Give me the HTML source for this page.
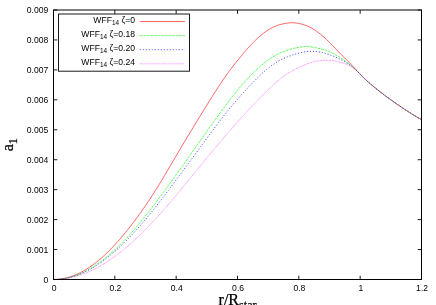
<!DOCTYPE html>
<html><head><meta charset="utf-8"><title>plot</title>
<style>
html,body{margin:0;padding:0;background:#fff;overflow:hidden}
body{width:436px;height:305px;position:relative;font-family:"Liberation Sans",sans-serif}
</style></head><body>
<svg width="436" height="305" viewBox="0 0 436 305" style="position:absolute;left:0;top:0;will-change:transform">
<rect width="436" height="305" fill="#fff"/>
<path d="M53.5,279.50 L55.0,279.48 L56.5,279.41 L58.0,279.31 L59.5,279.15 L61.0,278.96 L62.5,278.72 L64.0,278.44 L65.5,278.12 L67.0,277.75 L68.5,277.35 L70.0,276.89 L71.5,276.40 L73.0,275.86 L74.5,275.29 L76.0,274.67 L77.5,274.00 L79.0,273.30 L80.5,272.55 L82.0,271.77 L83.5,270.94 L85.0,270.07 L86.5,269.16 L88.0,268.22 L89.5,267.23 L91.0,266.20 L92.5,265.13 L94.0,264.02 L95.5,262.88 L97.0,261.69 L98.5,260.47 L100.0,259.21 L101.5,257.91 L103.0,256.58 L104.5,255.21 L106.0,253.80 L107.5,252.36 L109.0,250.88 L110.5,249.37 L112.0,247.82 L113.5,246.24 L115.0,244.62 L116.5,242.97 L118.0,241.29 L119.5,239.57 L121.0,237.83 L122.5,236.06 L124.0,234.26 L125.5,232.44 L127.0,230.60 L128.5,228.72 L130.0,226.82 L131.5,224.90 L133.0,222.95 L134.5,220.97 L136.0,218.96 L137.5,216.93 L139.0,214.87 L140.5,212.79 L142.0,210.67 L143.5,208.53 L145.0,206.36 L146.5,204.16 L148.0,201.93 L149.5,199.68 L151.0,197.39 L152.5,195.08 L154.0,192.74 L155.5,190.36 L157.0,187.96 L158.5,185.54 L160.0,183.09 L161.5,180.61 L163.0,178.12 L164.5,175.61 L166.0,173.09 L167.5,170.56 L169.0,168.01 L170.5,165.46 L172.0,162.91 L173.5,160.35 L175.0,157.80 L176.5,155.24 L178.0,152.69 L179.5,150.15 L181.0,147.62 L182.5,145.10 L184.0,142.59 L185.5,140.08 L187.0,137.59 L188.5,135.10 L190.0,132.61 L191.5,130.14 L193.0,127.67 L194.5,125.20 L196.0,122.74 L197.5,120.29 L199.0,117.84 L200.5,115.39 L202.0,112.95 L203.5,110.51 L205.0,108.08 L206.5,105.65 L208.0,103.23 L209.5,100.82 L211.0,98.42 L212.5,96.04 L214.0,93.67 L215.5,91.33 L217.0,89.00 L218.5,86.70 L220.0,84.43 L221.5,82.19 L223.0,79.97 L224.5,77.80 L226.0,75.65 L227.5,73.55 L229.0,71.49 L230.5,69.47 L232.0,67.49 L233.5,65.55 L235.0,63.64 L236.5,61.77 L238.0,59.92 L239.5,58.09 L241.0,56.28 L242.5,54.48 L244.0,52.70 L245.5,50.94 L247.0,49.21 L248.5,47.52 L250.0,45.86 L251.5,44.25 L253.0,42.68 L254.5,41.17 L256.0,39.70 L257.5,38.29 L259.0,36.94 L260.5,35.64 L262.0,34.40 L263.5,33.23 L265.0,32.11 L266.5,31.06 L268.0,30.08 L269.5,29.16 L271.0,28.31 L272.5,27.52 L274.0,26.80 L275.5,26.15 L277.0,25.57 L278.5,25.05 L280.0,24.60 L281.5,24.22 L283.0,23.89 L284.5,23.59 L286.0,23.32 L287.5,23.08 L289.0,22.89 L290.5,22.75 L292.0,22.70 L293.5,22.74 L295.0,22.85 L296.5,23.05 L298.0,23.30 L299.5,23.61 L301.0,23.96 L302.5,24.36 L304.0,24.81 L305.5,25.33 L307.0,25.90 L308.5,26.54 L310.0,27.24 L311.5,28.02 L313.0,28.88 L314.5,29.82 L316.0,30.82 L317.5,31.90 L319.0,33.04 L320.5,34.25 L322.0,35.50 L323.5,36.80 L325.0,38.14 L326.5,39.52 L328.0,40.94 L329.5,42.40 L331.0,43.90 L332.5,45.43 L334.0,46.98 L335.5,48.55 L337.0,50.12 L338.5,51.68 L340.0,53.22 L341.5,54.75 L343.0,56.26 L344.5,57.77 L346.0,59.28 L347.5,60.79 L349.0,62.30 L350.5,63.83 L352.0,65.38 L353.5,66.96 L355.0,68.56 L356.5,70.18 L358.0,71.82 L359.5,73.44 L361.0,75.04 L362.5,76.59 L364.0,78.09 L365.5,79.53 L367.0,80.91 L368.5,82.25 L370.0,83.55 L371.5,84.82 L373.0,86.08 L374.5,87.31 L376.0,88.53 L377.5,89.72 L379.0,90.91 L380.5,92.08 L382.0,93.23 L383.5,94.37 L385.0,95.50 L386.5,96.62 L388.0,97.73 L389.5,98.82 L391.0,99.91 L392.5,100.98 L394.0,102.05 L395.5,103.10 L397.0,104.14 L398.5,105.18 L400.0,106.20 L401.5,107.22 L403.0,108.22 L404.5,109.22 L406.0,110.20 L407.5,111.18 L409.0,112.14 L410.5,113.10 L412.0,114.04 L413.5,114.97 L415.0,115.88 L416.5,116.79 L418.0,117.68 L419.5,118.55 L421.0,119.42 L421.5,119.70" fill="none" stroke="#ff0000" stroke-width="0.6"/>
<path d="M53.5,279.50 L55.0,279.48 L56.5,279.43 L58.0,279.33 L59.5,279.20 L61.0,279.04 L62.5,278.84 L64.0,278.60 L65.5,278.32 L67.0,278.01 L68.5,277.66 L70.0,277.27 L71.5,276.85 L73.0,276.39 L74.5,275.89 L76.0,275.36 L77.5,274.80 L79.0,274.19 L80.5,273.56 L82.0,272.88 L83.5,272.17 L85.0,271.43 L86.5,270.65 L88.0,269.84 L89.5,268.99 L91.0,268.11 L92.5,267.20 L94.0,266.25 L95.5,265.27 L97.0,264.25 L98.5,263.21 L100.0,262.13 L101.5,261.01 L103.0,259.87 L104.5,258.69 L106.0,257.49 L107.5,256.25 L109.0,254.98 L110.5,253.69 L112.0,252.36 L113.5,251.00 L115.0,249.62 L116.5,248.20 L118.0,246.76 L119.5,245.29 L121.0,243.79 L122.5,242.27 L124.0,240.72 L125.5,239.15 L127.0,237.55 L128.5,235.92 L130.0,234.27 L131.5,232.59 L133.0,230.89 L134.5,229.17 L136.0,227.42 L137.5,225.65 L139.0,223.86 L140.5,222.05 L142.0,220.22 L143.5,218.36 L145.0,216.50 L146.5,214.61 L148.0,212.70 L149.5,210.78 L151.0,208.85 L152.5,206.90 L154.0,204.94 L155.5,202.96 L157.0,200.97 L158.5,198.97 L160.0,196.96 L161.5,194.93 L163.0,192.90 L164.5,190.86 L166.0,188.82 L167.5,186.76 L169.0,184.70 L170.5,182.63 L172.0,180.55 L173.5,178.47 L175.0,176.38 L176.5,174.29 L178.0,172.19 L179.5,170.09 L181.0,167.98 L182.5,165.87 L184.0,163.75 L185.5,161.64 L187.0,159.51 L188.5,157.39 L190.0,155.26 L191.5,153.13 L193.0,151.00 L194.5,148.87 L196.0,146.73 L197.5,144.60 L199.0,142.47 L200.5,140.34 L202.0,138.21 L203.5,136.08 L205.0,133.96 L206.5,131.84 L208.0,129.72 L209.5,127.61 L211.0,125.51 L212.5,123.41 L214.0,121.32 L215.5,119.24 L217.0,117.16 L218.5,115.10 L220.0,113.04 L221.5,111.00 L223.0,108.97 L224.5,106.95 L226.0,104.94 L227.5,102.95 L229.0,100.98 L230.5,99.03 L232.0,97.09 L233.5,95.18 L235.0,93.29 L236.5,91.43 L238.0,89.59 L239.5,87.78 L241.0,86.00 L242.5,84.24 L244.0,82.53 L245.5,80.84 L247.0,79.19 L248.5,77.58 L250.0,76.00 L251.5,74.46 L253.0,72.97 L254.5,71.51 L256.0,70.09 L257.5,68.72 L259.0,67.39 L260.5,66.09 L262.0,64.84 L263.5,63.64 L265.0,62.47 L266.5,61.35 L268.0,60.27 L269.5,59.23 L271.0,58.24 L272.5,57.28 L274.0,56.37 L275.5,55.50 L277.0,54.67 L278.5,53.88 L280.0,53.13 L281.5,52.42 L283.0,51.76 L284.5,51.14 L286.0,50.56 L287.5,50.03 L289.0,49.55 L290.5,49.11 L292.0,48.73 L293.5,48.38 L295.0,48.07 L296.5,47.80 L298.0,47.53 L299.5,47.28 L301.0,47.04 L302.5,46.81 L304.0,46.62 L305.5,46.51 L307.0,46.51 L308.5,46.60 L310.0,46.77 L311.5,47.00 L313.0,47.26 L314.5,47.53 L316.0,47.80 L317.5,48.08 L319.0,48.38 L320.5,48.70 L322.0,49.06 L323.5,49.46 L325.0,49.91 L326.5,50.42 L328.0,51.00 L329.5,51.64 L331.0,52.35 L332.5,53.11 L334.0,53.93 L335.5,54.79 L337.0,55.68 L338.5,56.61 L340.0,57.56 L341.5,58.53 L343.0,59.52 L344.5,60.53 L346.0,61.57 L347.5,62.64 L349.0,63.77 L350.5,64.95 L352.0,66.19 L353.5,67.51 L355.0,68.90 L356.5,70.37 L358.0,71.91 L359.5,73.48 L361.0,75.05 L362.5,76.59 L364.0,78.09 L365.5,79.53 L367.0,80.91 L368.5,82.25 L370.0,83.55 L371.5,84.82 L373.0,86.08 L374.5,87.31 L376.0,88.53 L377.5,89.72 L379.0,90.91 L380.5,92.08 L382.0,93.23 L383.5,94.37 L385.0,95.50 L386.5,96.62 L388.0,97.73 L389.5,98.82 L391.0,99.91 L392.5,100.98 L394.0,102.05 L395.5,103.10 L397.0,104.14 L398.5,105.18 L400.0,106.20 L401.5,107.22 L403.0,108.22 L404.5,109.22 L406.0,110.20 L407.5,111.18 L409.0,112.14 L410.5,113.10 L412.0,114.04 L413.5,114.97 L415.0,115.88 L416.5,116.79 L418.0,117.68 L419.5,118.55 L421.0,119.42 L421.5,119.70" fill="none" stroke="#00ff00" stroke-width="0.65" stroke-dasharray="2.6 1.0"/>
<path d="M53.5,279.50 L55.0,279.48 L56.5,279.43 L58.0,279.34 L59.5,279.22 L61.0,279.06 L62.5,278.87 L64.0,278.64 L65.5,278.38 L67.0,278.08 L68.5,277.75 L70.0,277.39 L71.5,276.99 L73.0,276.55 L74.5,276.08 L76.0,275.58 L77.5,275.04 L79.0,274.47 L80.5,273.87 L82.0,273.23 L83.5,272.56 L85.0,271.86 L86.5,271.12 L88.0,270.35 L89.5,269.55 L91.0,268.72 L92.5,267.85 L94.0,266.95 L95.5,266.03 L97.0,265.07 L98.5,264.08 L100.0,263.06 L101.5,262.01 L103.0,260.92 L104.5,259.81 L106.0,258.68 L107.5,257.51 L109.0,256.31 L110.5,255.09 L112.0,253.83 L113.5,252.55 L115.0,251.25 L116.5,249.91 L118.0,248.55 L119.5,247.17 L121.0,245.76 L122.5,244.32 L124.0,242.86 L125.5,241.38 L127.0,239.87 L128.5,238.34 L130.0,236.79 L131.5,235.22 L133.0,233.63 L134.5,232.02 L136.0,230.38 L137.5,228.72 L139.0,227.03 L140.5,225.32 L142.0,223.59 L143.5,221.83 L145.0,220.05 L146.5,218.25 L148.0,216.44 L149.5,214.60 L151.0,212.75 L152.5,210.88 L154.0,208.99 L155.5,207.09 L157.0,205.18 L158.5,203.25 L160.0,201.32 L161.5,199.37 L163.0,197.41 L164.5,195.45 L166.0,193.48 L167.5,191.50 L169.0,189.52 L170.5,187.53 L172.0,185.54 L173.5,183.54 L175.0,181.54 L176.5,179.53 L178.0,177.52 L179.5,175.51 L181.0,173.49 L182.5,171.46 L184.0,169.44 L185.5,167.41 L187.0,165.38 L188.5,163.34 L190.0,161.30 L191.5,159.26 L193.0,157.22 L194.5,155.17 L196.0,153.12 L197.5,151.07 L199.0,149.02 L200.5,146.97 L202.0,144.91 L203.5,142.86 L205.0,140.81 L206.5,138.77 L208.0,136.73 L209.5,134.69 L211.0,132.67 L212.5,130.65 L214.0,128.64 L215.5,126.64 L217.0,124.66 L218.5,122.69 L220.0,120.73 L221.5,118.79 L223.0,116.86 L224.5,114.96 L226.0,113.07 L227.5,111.20 L229.0,109.35 L230.5,107.53 L232.0,105.72 L233.5,103.94 L235.0,102.18 L236.5,100.43 L238.0,98.71 L239.5,97.00 L241.0,95.32 L242.5,93.65 L244.0,92.00 L245.5,90.36 L247.0,88.75 L248.5,87.15 L250.0,85.56 L251.5,83.99 L253.0,82.44 L254.5,80.91 L256.0,79.38 L257.5,77.88 L259.0,76.40 L260.5,74.95 L262.0,73.54 L263.5,72.17 L265.0,70.84 L266.5,69.56 L268.0,68.33 L269.5,67.15 L271.0,66.02 L272.5,64.94 L274.0,63.91 L275.5,62.93 L277.0,62.00 L278.5,61.12 L280.0,60.30 L281.5,59.52 L283.0,58.79 L284.5,58.10 L286.0,57.44 L287.5,56.83 L289.0,56.24 L290.5,55.69 L292.0,55.16 L293.5,54.65 L295.0,54.17 L296.5,53.73 L298.0,53.31 L299.5,52.92 L301.0,52.57 L302.5,52.25 L304.0,51.98 L305.5,51.74 L307.0,51.56 L308.5,51.42 L310.0,51.33 L311.5,51.29 L313.0,51.32 L314.5,51.39 L316.0,51.52 L317.5,51.69 L319.0,51.92 L320.5,52.19 L322.0,52.50 L323.5,52.86 L325.0,53.25 L326.5,53.69 L328.0,54.16 L329.5,54.67 L331.0,55.21 L332.5,55.78 L334.0,56.39 L335.5,57.03 L337.0,57.70 L338.5,58.41 L340.0,59.14 L341.5,59.90 L343.0,60.70 L344.5,61.53 L346.0,62.41 L347.5,63.35 L349.0,64.34 L350.5,65.41 L352.0,66.55 L353.5,67.78 L355.0,69.10 L356.5,70.51 L358.0,72.00 L359.5,73.53 L361.0,75.07 L362.5,76.60 L364.0,78.09 L365.5,79.52 L367.0,80.90 L368.5,82.24 L370.0,83.55 L371.5,84.82 L373.0,86.08 L374.5,87.31 L376.0,88.53 L377.5,89.73 L379.0,90.91 L380.5,92.08 L382.0,93.23 L383.5,94.37 L385.0,95.50 L386.5,96.62 L388.0,97.73 L389.5,98.82 L391.0,99.91 L392.5,100.98 L394.0,102.04 L395.5,103.10 L397.0,104.14 L398.5,105.18 L400.0,106.20 L401.5,107.22 L403.0,108.22 L404.5,109.22 L406.0,110.20 L407.5,111.18 L409.0,112.14 L410.5,113.10 L412.0,114.04 L413.5,114.97 L415.0,115.88 L416.5,116.79 L418.0,117.68 L419.5,118.55 L421.0,119.42 L421.5,119.70" fill="none" stroke="#0000ff" stroke-width="0.65" stroke-dasharray="1.2 1.8"/>
<path d="M53.5,279.50 L55.0,279.49 L56.5,279.44 L58.0,279.37 L59.5,279.27 L61.0,279.15 L62.5,278.99 L64.0,278.81 L65.5,278.59 L67.0,278.35 L68.5,278.08 L70.0,277.79 L71.5,277.46 L73.0,277.11 L74.5,276.73 L76.0,276.32 L77.5,275.88 L79.0,275.42 L80.5,274.93 L82.0,274.41 L83.5,273.86 L85.0,273.29 L86.5,272.69 L88.0,272.06 L89.5,271.40 L91.0,270.72 L92.5,270.02 L94.0,269.28 L95.5,268.52 L97.0,267.73 L98.5,266.92 L100.0,266.08 L101.5,265.22 L103.0,264.33 L104.5,263.41 L106.0,262.47 L107.5,261.51 L109.0,260.52 L110.5,259.51 L112.0,258.47 L113.5,257.41 L115.0,256.32 L116.5,255.21 L118.0,254.08 L119.5,252.92 L121.0,251.74 L122.5,250.54 L124.0,249.32 L125.5,248.07 L127.0,246.81 L128.5,245.52 L130.0,244.21 L131.5,242.88 L133.0,241.53 L134.5,240.16 L136.0,238.77 L137.5,237.35 L139.0,235.92 L140.5,234.47 L142.0,233.00 L143.5,231.51 L145.0,230.00 L146.5,228.47 L148.0,226.92 L149.5,225.36 L151.0,223.78 L152.5,222.19 L154.0,220.58 L155.5,218.95 L157.0,217.31 L158.5,215.66 L160.0,213.99 L161.5,212.31 L163.0,210.61 L164.5,208.91 L166.0,207.19 L167.5,205.46 L169.0,203.72 L170.5,201.97 L172.0,200.21 L173.5,198.44 L175.0,196.66 L176.5,194.87 L178.0,193.08 L179.5,191.28 L181.0,189.47 L182.5,187.66 L184.0,185.84 L185.5,184.01 L187.0,182.18 L188.5,180.35 L190.0,178.51 L191.5,176.68 L193.0,174.84 L194.5,173.00 L196.0,171.16 L197.5,169.32 L199.0,167.48 L200.5,165.64 L202.0,163.81 L203.5,161.98 L205.0,160.15 L206.5,158.33 L208.0,156.51 L209.5,154.70 L211.0,152.90 L212.5,151.10 L214.0,149.31 L215.5,147.52 L217.0,145.75 L218.5,143.97 L220.0,142.21 L221.5,140.45 L223.0,138.70 L224.5,136.95 L226.0,135.21 L227.5,133.48 L229.0,131.75 L230.5,130.03 L232.0,128.31 L233.5,126.60 L235.0,124.90 L236.5,123.20 L238.0,121.52 L239.5,119.84 L241.0,118.17 L242.5,116.50 L244.0,114.85 L245.5,113.20 L247.0,111.56 L248.5,109.94 L250.0,108.32 L251.5,106.71 L253.0,105.11 L254.5,103.53 L256.0,101.95 L257.5,100.38 L259.0,98.83 L260.5,97.29 L262.0,95.76 L263.5,94.26 L265.0,92.77 L266.5,91.30 L268.0,89.85 L269.5,88.43 L271.0,87.03 L272.5,85.66 L274.0,84.32 L275.5,83.00 L277.0,81.72 L278.5,80.47 L280.0,79.25 L281.5,78.07 L283.0,76.93 L284.5,75.83 L286.0,74.77 L287.5,73.76 L289.0,72.79 L290.5,71.87 L292.0,71.00 L293.5,70.18 L295.0,69.40 L296.5,68.65 L298.0,67.93 L299.5,67.23 L301.0,66.54 L302.5,65.87 L304.0,65.22 L305.5,64.60 L307.0,64.00 L308.5,63.45 L310.0,62.93 L311.5,62.45 L313.0,62.01 L314.5,61.62 L316.0,61.28 L317.5,60.98 L319.0,60.73 L320.5,60.53 L322.0,60.38 L323.5,60.27 L325.0,60.21 L326.5,60.20 L328.0,60.24 L329.5,60.33 L331.0,60.46 L332.5,60.63 L334.0,60.85 L335.5,61.11 L337.0,61.42 L338.5,61.76 L340.0,62.14 L341.5,62.56 L343.0,63.02 L344.5,63.52 L346.0,64.09 L347.5,64.73 L349.0,65.45 L350.5,66.27 L352.0,67.19 L353.5,68.23 L355.0,69.40 L356.5,70.70 L358.0,72.11 L359.5,73.58 L361.0,75.09 L362.5,76.61 L364.0,78.08 L365.5,79.51 L367.0,80.89 L368.5,82.23 L370.0,83.54 L371.5,84.82 L373.0,86.08 L374.5,87.32 L376.0,88.53 L377.5,89.73 L379.0,90.91 L380.5,92.08 L382.0,93.23 L383.5,94.37 L385.0,95.50 L386.5,96.62 L388.0,97.72 L389.5,98.82 L391.0,99.90 L392.5,100.98 L394.0,102.04 L395.5,103.10 L397.0,104.14 L398.5,105.17 L400.0,106.20 L401.5,107.22 L403.0,108.22 L404.5,109.22 L406.0,110.20 L407.5,111.18 L409.0,112.14 L410.5,113.10 L412.0,114.04 L413.5,114.97 L415.0,115.88 L416.5,116.79 L418.0,117.68 L419.5,118.55 L421.0,119.42 L421.5,119.70" fill="none" stroke="#ff00ff" stroke-width="0.65" stroke-dasharray="0.65 0.85"/>
<rect x="53.5" y="10.0" width="368.0" height="269.5" fill="none" stroke="#000" stroke-width="1"/>
<path d="M53.50,279.5 v-3.8 M53.50,10.0 v3.8 M114.83,279.5 v-3.8 M114.83,10.0 v3.8 M176.17,279.5 v-3.8 M176.17,10.0 v3.8 M237.50,279.5 v-3.8 M237.50,10.0 v3.8 M298.83,279.5 v-3.8 M298.83,10.0 v3.8 M360.17,279.5 v-3.8 M360.17,10.0 v3.8 M421.50,279.5 v-3.8 M421.50,10.0 v3.8 M53.5,279.50 h3.8 M421.5,279.50 h-3.8 M53.5,249.56 h3.8 M421.5,249.56 h-3.8 M53.5,219.61 h3.8 M421.5,219.61 h-3.8 M53.5,189.67 h3.8 M421.5,189.67 h-3.8 M53.5,159.72 h3.8 M421.5,159.72 h-3.8 M53.5,129.78 h3.8 M421.5,129.78 h-3.8 M53.5,99.83 h3.8 M421.5,99.83 h-3.8 M53.5,69.89 h3.8 M421.5,69.89 h-3.8 M53.5,39.94 h3.8 M421.5,39.94 h-3.8 M53.5,10.00 h3.8 M421.5,10.00 h-3.8" stroke="#000" stroke-width="0.9" fill="none"/>
<g font-family="Liberation Sans, sans-serif" font-size="8.6" fill="#000">
<text x="48.3" y="282.60" text-anchor="end">0</text>
<text x="48.3" y="252.66" text-anchor="end">0.001</text>
<text x="48.3" y="222.71" text-anchor="end">0.002</text>
<text x="48.3" y="192.77" text-anchor="end">0.003</text>
<text x="48.3" y="162.82" text-anchor="end">0.004</text>
<text x="48.3" y="132.88" text-anchor="end">0.005</text>
<text x="48.3" y="102.93" text-anchor="end">0.006</text>
<text x="48.3" y="72.99" text-anchor="end">0.007</text>
<text x="48.3" y="43.04" text-anchor="end">0.008</text>
<text x="48.3" y="13.10" text-anchor="end">0.009</text>
<text x="54.10" y="291.3" text-anchor="middle">0</text>
<text x="115.43" y="291.3" text-anchor="middle">0.2</text>
<text x="176.77" y="291.3" text-anchor="middle">0.4</text>
<text x="238.10" y="291.3" text-anchor="middle">0.6</text>
<text x="299.43" y="291.3" text-anchor="middle">0.8</text>
<text x="360.77" y="291.3" text-anchor="middle">1</text>
<text x="422.10" y="291.3" text-anchor="middle">1.2</text>
<text x="135" y="23.10" font-size="8.6" text-anchor="end">WFF<tspan font-size="6.4" dy="2.0">14</tspan><tspan dy="-2.0"> ζ=0</tspan></text>
<text x="135" y="37.20" font-size="8.6" text-anchor="end">WFF<tspan font-size="6.4" dy="2.0">14</tspan><tspan dy="-2.0"> ζ=0.18</tspan></text>
<text x="135" y="51.30" font-size="8.6" text-anchor="end">WFF<tspan font-size="6.4" dy="2.0">14</tspan><tspan dy="-2.0"> ζ=0.20</tspan></text>
<text x="135" y="65.40" font-size="8.6" text-anchor="end">WFF<tspan font-size="6.4" dy="2.0">14</tspan><tspan dy="-2.0"> ζ=0.24</tspan></text>
</g>
<path d="M139.7,21.50 H184.9" stroke="#ff0000" stroke-width="0.6" fill="none"/>
<path d="M139.7,35.60 H184.9" stroke="#00ff00" stroke-width="0.6" stroke-dasharray="2.6 1.0" fill="none"/>
<path d="M139.7,49.70 H184.9" stroke="#0000ff" stroke-width="0.6" stroke-dasharray="1.2 1.8" fill="none"/>
<path d="M139.7,63.80 H184.9" stroke="#ff00ff" stroke-width="0.6" stroke-dasharray="0.65 0.85" fill="none"/>
<rect x="58.5" y="14" width="131" height="57.2" fill="none" stroke="#1a1a1a" stroke-width="1"/>
<g font-family="Liberation Serif, serif" fill="#000" stroke="#000" stroke-width="0.25">
<text x="218.6" y="305.3" font-size="16">r/R<tspan font-size="12.2" dy="3.3">star</tspan></text>
<text transform="translate(12.5,151.3) rotate(-90)" font-size="16">a<tspan font-size="12.2" dy="4.3">1</tspan></text>
</g>
</svg>
</body></html>
